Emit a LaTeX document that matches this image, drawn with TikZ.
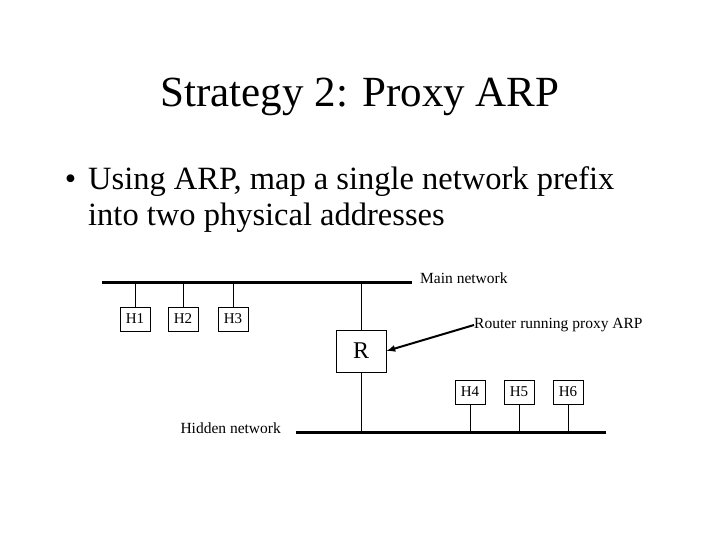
\documentclass[tikz,border=0pt]{standalone}
\usepackage{fontspec}
\setmainfont{Liberation Serif}
\begin{document}
\begin{tikzpicture}[x=1pt,y=-1pt,
  host/.style={draw,thick,minimum width=30pt,minimum height=24pt,inner sep=0pt,font=\fontsize{15}{17}\selectfont},
  net/.style={line width=3pt},
  stub/.style={line width=0.8pt},
  lbl/.style={font=\fontsize{15.5}{17}\selectfont,inner sep=0pt}]
\useasboundingbox (0,0) rectangle (720,540);
\node (title) at (360,97) {\fontsize{43}{48}\selectfont Strategy 2: Proxy ARP};
\node[anchor=west,align=left,inner sep=0pt,font=\fontsize{32.5}{36}\selectfont] (bul) at (88,200) {%
  \makebox[0pt][r]{\textbullet\hspace{12pt}}Using ARP, map a single network prefix\\
  into two physical addresses};
\coordinate (m1) at (102,282); \coordinate (m2) at (412,282);
\coordinate (d1) at (296,432); \coordinate (d2) at (606,432);
\draw[net] (m1) -- (m2);
\draw[net] (d1) -- (d2);
\node[lbl,anchor=west] (mn) at (420,278) {Main network};
\node[lbl,anchor=east] (hn) at (281,428) {Hidden network};
\node[host] (h1) at (135,319) {H1};
\node[host] (h2) at (183,319) {H2};
\node[host] (h3) at (233,319) {H3};
\node[host] (h4) at (470,392) {H4};
\node[host] (h5) at (519,392) {H5};
\node[host] (h6) at (568,392) {H6};
\node[draw,thick,minimum width=50pt,minimum height=42pt,font=\fontsize{24}{26}\selectfont] (r) at (361,351) {R};
\foreach \h in {h1,h2,h3} \draw[stub] (\h.north) -- (\h.north |- m1);
\foreach \h in {h4,h5,h6} \draw[stub] (\h.south) -- (\h.south |- d1);
\draw[stub] (r.north) -- (r.north |- m1);
\draw[stub] (r.south) -- (r.south |- d1);
\node[lbl,anchor=west] (rl) at (474,325) {Router running proxy ARP};
\draw[line width=2pt,-latex] (rl.west) -- (r.east);
\end{tikzpicture}
\end{document}
